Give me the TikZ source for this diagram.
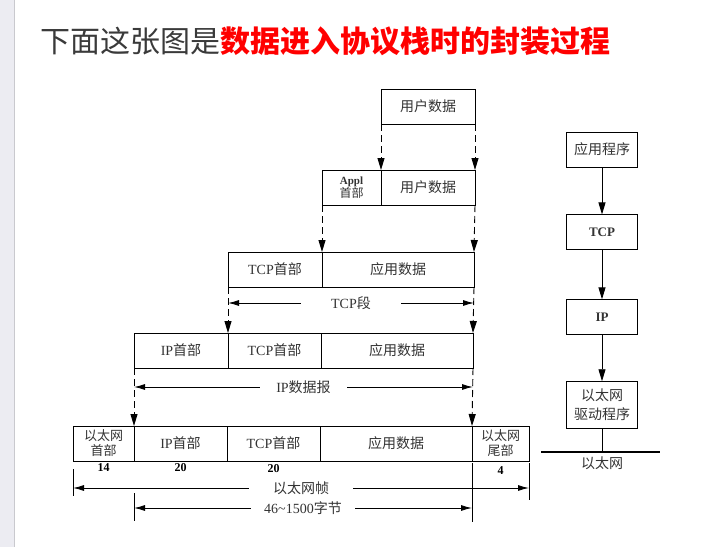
\documentclass[tikz,border=0pt]{standalone}
\usepackage{fontspec}
\setmainfont{Liberation Serif}
\newfontfamily\cjk{Noto Sans CJK SC}
\newcommand{\zh}[1]{{\cjk #1}}
\usetikzlibrary{arrows.meta, positioning}

\definecolor{titlered}{RGB}{255,0,0}
\definecolor{titlegray}{RGB}{58,58,58}
\definecolor{pagegray}{RGB}{236,236,242}

\begin{document}
\begin{tikzpicture}[
    x=1pt, y=-1pt,
    line width=0.9pt,
    field/.style={
        rectangle,
        draw,
        minimum height=35pt,
        inner sep=0pt,
        outer sep=0pt,
        align=center,
        text=black!80,
        font=\fontsize{14}{16}\selectfont
    },
    layer/.style={
        rectangle,
        draw,
        minimum width=71pt,
        minimum height=35pt,
        inner sep=0pt,
        align=center,
        text=black!80,
        font=\fontsize{14}{19}\selectfont
    },
    size/.style={
        inner sep=1pt,
        font=\bfseries\fontsize{12}{13}\selectfont
    },
    dash_arrow/.style={
        -{Triangle[length=12pt, width=7pt]},
        dash pattern=on 7pt off 4pt
    },
    dim_arrow/.style={
        {Latex[length=11pt, width=6pt]}-{Latex[length=11pt, width=6pt]}
    },
    dim_label/.style={
        midway,
        fill=white,
        inner ysep=1pt,
        text=black!80,
        font=\fontsize{14}{16}\selectfont
    },
    stack_arrow/.style={
        -{Triangle[length=12pt, width=7pt]}
    }
]
\useasboundingbox (0,0) rectangle (718,547);

% page edge and title
\fill[pagegray] (0,0) rectangle (14,547);
\draw[pagegray!85!black, line width=0.5pt] (14,0) -- (14,547);
\node[anchor=west, inner sep=0pt, font=\fontsize{30}{34}\selectfont] (title) at (40,41)
    {\zh{\color{titlegray}下面这张图是}\zh{\bfseries\color{titlered}数据进入协议栈时的封装过程}};

% Row 1: user data
\node[field, minimum width=94pt, anchor=north west] (user) at (381,89) {\zh{用户数据}};

% Row 2: application
\node[field, minimum width=59pt, anchor=north west, font=\fontsize{12}{13}\selectfont] (applhdr) at (322,170)
    {{\bfseries\fontsize{11}{12}\selectfont Appl}\\\zh{首部}};
\node[field, minimum width=94pt, right=0pt of applhdr] (user2) {\zh{用户数据}};

% Row 3: TCP segment
\node[field, minimum width=94pt, anchor=north west] (tcphdr3) at (228,252) {TCP\zh{首部}};
\node[field, minimum width=152pt, right=0pt of tcphdr3] (data3) {\zh{应用数据}};

% Row 4: IP datagram
\node[field, minimum width=94pt, anchor=north west] (iphdr4) at (134,333) {IP\zh{首部}};
\node[field, minimum width=93pt, right=0pt of iphdr4] (tcphdr4) {TCP\zh{首部}};
\node[field, minimum width=152pt, right=0pt of tcphdr4] (data4) {\zh{应用数据}};

% Row 5: Ethernet frame
\node[field, minimum width=61pt, anchor=north west, font=\fontsize{13}{15}\selectfont] (ethhdr5) at (73,426)
    {\zh{以太网}\\\zh{首部}};
\node[field, minimum width=93pt, right=0pt of ethhdr5] (iphdr5) {IP\zh{首部}};
\node[field, minimum width=93pt, right=0pt of iphdr5] (tcphdr5) {TCP\zh{首部}};
\node[field, minimum width=152pt, right=0pt of tcphdr5] (data5) {\zh{应用数据}};
\node[field, minimum width=57pt, right=0pt of data5, font=\fontsize{13}{15}\selectfont] (ethtrl5)
    {\zh{以太网}\\\zh{尾部}};

% field sizes
\node[size, below=1pt of ethhdr5] (n14) {14};
\node[size, below=1pt of iphdr5] (n20a) {20};
\node[size, below=2pt of tcphdr5] (n20b) {20};
\node[size, below=4pt of ethtrl5] (n4) {4};

% Dashed arrows
\draw[dash_arrow] (user.south west) -- (user2.north west);
\draw[dash_arrow] (user.south east) -- (user2.north east);
\draw[dash_arrow] (applhdr.south west) -- (tcphdr3.north east);
\draw[dash_arrow] (user2.south east) -- (data3.north east);
\draw[dash_arrow] (tcphdr3.south west) -- (tcphdr4.north west);
\draw[dash_arrow] (data3.south east) -- (data4.north east);
\draw[dash_arrow] (iphdr4.south west) -- (iphdr5.north west);
\draw[dash_arrow] (data4.south east) -- (data5.north east);

% Dimension lines
\path (tcphdr3.south west) ++(0,16) coordinate (tcpL);
\path (data3.south east) ++(0,16) coordinate (tcpR);
\draw[dim_arrow] (tcpL) -- (tcpR) node[dim_label, inner xsep=30pt] (tcpseg) {TCP\zh{段}};

\path (iphdr4.south west) ++(0,19) coordinate (ipL);
\path (data4.south east) ++(0,19) coordinate (ipR);
\draw[dim_arrow] (ipL) -- (ipR) node[dim_label, inner xsep=16pt] (ipdgram) {IP\zh{数据报}};

\path (ethhdr5.south west) ++(0,27) coordinate (frameL);
\path (ethtrl5.south east) ++(0,27) coordinate (frameR);
\draw ([yshift=19pt]frameL) -- ([yshift=-8pt]frameL);
\draw ([yshift=25pt]frameR) -- ([yshift=-12pt]frameR);
\draw[dim_arrow] (frameL) -- (frameR) node[dim_label, inner xsep=24pt] (frame) {\zh{以太网帧}};

\path (iphdr5.south west) ++(0,47) coordinate (payL);
\path (data5.south east) ++(0,47) coordinate (payR);
\draw ([yshift=15pt]payL) -- ([yshift=-13pt]payL);
\draw ([yshift=45pt]payR) -- ([yshift=-14pt]payR);
\draw[dim_arrow] (payL) -- (payR) node[dim_label, inner xsep=13pt] (payload) {46\textasciitilde 1500\zh{字节}};

% Protocol stack
\node[layer] (app) at (602,149.5) {\zh{应用程序}};
\node[layer, below=47pt of app, font=\bfseries\fontsize{13}{14}\selectfont] (tcp) {TCP};
\node[layer, below=49pt of tcp, font=\bfseries\fontsize{13}{14}\selectfont] (ip) {IP};
\node[layer, below=46pt of ip, minimum height=47pt] (drv) {\zh{以太网}\\\zh{驱动程序}};

\draw[stack_arrow] (app) -- (tcp);
\draw[stack_arrow] (tcp) -- (ip);
\draw[stack_arrow] (ip) -- (drv);

\coordinate[below=23pt of drv.south] (tap);
\draw (drv) -- (tap);
\draw[line width=2pt] ([xshift=-61pt]tap) -- ([xshift=58pt]tap);
\node[below=1pt of tap, text=black!80, font=\fontsize{14}{16}\selectfont] (ethnet) {\zh{以太网}};

\end{tikzpicture}
\end{document}
